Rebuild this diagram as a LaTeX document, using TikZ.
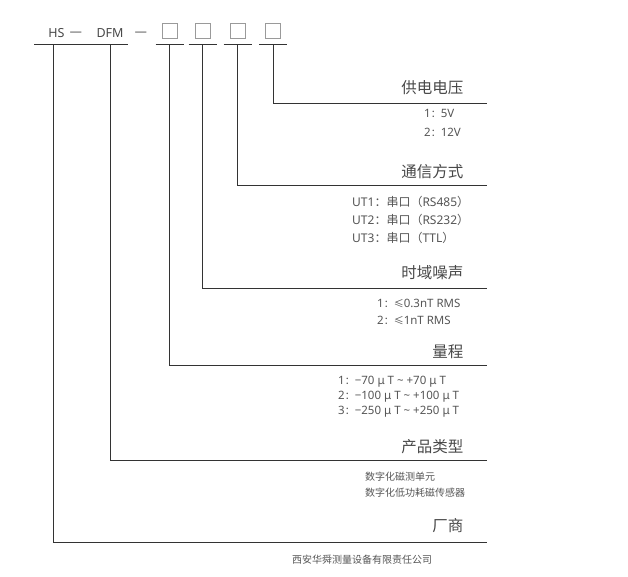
\documentclass[tikz,border=0pt]{standalone}
\usepackage{fontspec}
\setmainfont{Noto Sans}
\newfontfamily\cjk{Noto Sans CJK SC}
\usetikzlibrary{positioning,calc}
\definecolor{Ink}{HTML}{484848}
\definecolor{Soft}{HTML}{555555}
\definecolor{Rule}{HTML}{333333}
\definecolor{SlotGray}{HTML}{9A9A9A}
\newcommand\zh[1]{{\cjk\fontsize{10}{12}\selectfont #1}}
\newcommand\zhb[1]{{\cjk\fontsize{12}{14}\selectfont #1}}

\begin{document}
\begin{tikzpicture}[x=1pt,y=-1pt,font=\fontsize{11.5}{13}\selectfont,
  head/.style={font=\cjk\fontsize{15.5}{18}\selectfont,text=Ink,inner sep=0pt,anchor=east},
  item/.style={text=Soft,inner sep=0pt,anchor=west},
  port/.style={item,font=\fontsize{12}{14}\selectfont},
  code/.style={font=\fontsize{12.5}{15}\selectfont,text=Ink,inner sep=0pt},
  joiner/.style={code,font=\cjk\fontsize{14}{15}\selectfont},
  slot/.style={draw=SlotGray,line width=1pt,minimum size=15pt,inner sep=0pt},
  rule/.style={Rule,line width=0.9pt}]
  \useasboundingbox (0,0) rectangle (628,576);
  % model code row
  \node[code] (hs) at (56.5,33.5) {HS};
  \node[joiner] (d1) at (76,34.5) {—};
  \node[code] (dfm) at (110,33.5) {DFM};
  \node[joiner] (d2) at (141,34) {—};
  \foreach \n/\x in {1/169.5,2/202.5,3/237.5,4/273}{\node[slot] (b\n) at (\x,30.5) {};}
  \coordinate (base) at (0,44);
  \draw[rule] ($(hs |- base)+(-22.5,0)$) -- ($(dfm |- base)+(18,0)$);
  \foreach \n in {1,...,4}{\draw[rule] ($(b\n |- base)+(-14,0)$) -- ($(b\n |- base)+(14,0)$);}
  % field labels
  \node[head] (volt) at (463.5,88) {供电电压};
  \node[head] (comm) at (463.5,172) {通信方式};
  \node[head] (noise) at (463.5,273) {时域噪声};
  \node[head] (range) at (463.5,352) {量程};
  \node[head] (type) at (463.5,447) {产品类型};
  \node[head] (maker) at (463.5,526) {厂商};
  % rule ends
  \coordinate (r4) at (487,103);
  \coordinate (r3) at (487,185.5);
  \coordinate (r2) at (487,288);
  \coordinate (r1) at (487,365.5);
  \coordinate (r0) at (487,460.5);
  \coordinate (rh) at (487,542);
  \draw[rule] (b4 |- base) |- (r4);
  \draw[rule] (b3 |- base) |- (r3);
  \draw[rule] (b2 |- base) |- (r2);
  \draw[rule] (b1 |- base) |- (r1);
  \draw[rule] (dfm |- base) ++(0.5,0) |- (r0);
  \draw[rule] (53,44) |- (rh);
  % options
  \node[item] (v1) at (424,113.5) {1\zh{：}5V};
  \node[item] (v2) at (424,132.5) {2\zh{：}12V};
  \node[port] (c1) at (352,202) {UT1\zhb{：串口（}RS485\zhb{）}};
  \node[port] (c2) at (352,219.5) {UT2\zhb{：串口（}RS232\zhb{）}};
  \node[port] (c3) at (352,237.5) {UT3\zhb{：串口（}TTL\zhb{）}};
  \node[item] (n1) at (377,303) {1\zh{：≤}0.3nT RMS};
  \node[item] (n2) at (377,320) {2\zh{：≤}1nT RMS};
  \node[item] (g1) at (338,382) {1\zh{：}−70 μ T \textasciitilde\ +70 μ T};
  \node[item] (g2) at (338,397) {2\zh{：}−100 μ T \textasciitilde\ +100 μ T};
  \node[item] (g3) at (338,412) {3\zh{：}−250 μ T \textasciitilde\ +250 μ T};
  \node[item] (p1) at (365,477) {\zh{数字化磁测单元}};
  \node[item] (p2) at (365,493) {\zh{数字化低功耗磁传感器}};
  \node[item] (m1) at (292,560) {\zh{西安华舜测量设备有限责任公司}};
\end{tikzpicture}
\end{document}
